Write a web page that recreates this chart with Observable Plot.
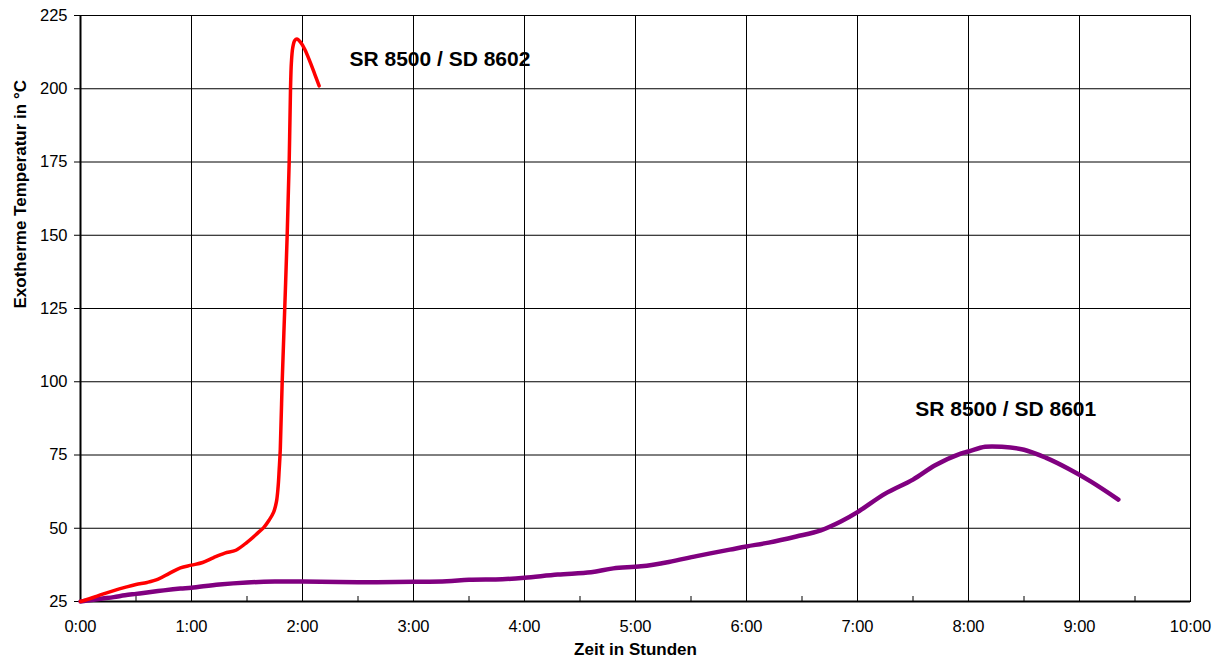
<!DOCTYPE html>
<html><head><meta charset="utf-8">
<script src="https://cdn.jsdelivr.net/npm/d3@7"></script>
<script src="https://cdn.jsdelivr.net/npm/@observablehq/plot@0.6"></script>
<style>body{margin:0;background:#fff} svg{display:block}</style>
</head><body><div id="chart"></div>
<script>
// SR 8500 / SD 8602 (red): hours, °C
const redHours = [0,0.1,0.2,0.3,0.4,0.5,0.6,0.7,0.8,0.9,1.0,1.1,1.2,1.3,1.4,1.5,1.6,1.65,1.7,1.74,1.765,1.78,1.79,1.80,1.817,1.84,1.862,1.88,1.892,1.90,1.912,1.93,1.95,1.98,2.02,2.07,2.11,2.15];
const redTemps = [25,26.2,27.5,28.7,29.8,30.8,31.5,32.6,34.6,36.5,37.4,38.3,40.0,41.5,42.5,45.2,48.5,50.2,52.8,55.5,59,64,70,77,100,125,150,175,200,209,214,216.5,217,216,213.5,209,205,201];
// SR 8500 / SD 8601 (purple)
const purpleHours = [0,0.1,0.2,0.3,0.4,0.5,0.6,0.75,0.9,1.0,1.25,1.5,1.75,2.0,2.5,3.0,3.3,3.5,3.8,4.0,4.3,4.6,4.8,5.05,5.3,5.55,5.85,6.0,6.2,6.45,6.67,6.85,7.0,7.25,7.5,7.7,7.93,8.0,8.15,8.3,8.5,8.7,8.9,9.1,9.35];
const purpleTemps = [25,25.5,26.0,26.5,27.1,27.6,28.1,28.8,29.4,29.7,30.8,31.5,31.8,31.8,31.6,31.7,31.9,32.4,32.6,33.1,34.2,35.0,36.3,37.0,38.5,40.5,42.7,43.8,45.1,47.2,49.3,52.3,55.5,61.8,66.6,71.5,75.5,76.2,77.8,77.8,76.8,74.0,70.3,66.0,59.8];

const seriesNames = ["SR 8500 / SD 8602", "SR 8500 / SD 8601"];
const seriesColors = ["#ff0000", "#800080"];
const labelHours = [2.423, 7.52];
const labelTemps = [210, 90.5];

const xTicks = [0,1,2,3,4,5,6,7,8,9,10];
const xMinor = [0.5,1.5,2.5,3.5,4.5,5.5,6.5,7.5,8.5,9.5];
const yTicks = [25,50,75,100,125,150,175,200,225];
const xTitle = "Zeit in Stunden";
const yTitle = "Exotherme Temperatur in °C";

const red = redHours.map((h,i)=>({h, t: redTemps[i]}));
const purple = purpleHours.map((h,i)=>({h, t: purpleTemps[i]}));
const labels = seriesNames.map((name,i)=>({name, h: labelHours[i], t: labelTemps[i]}));

const chart = Plot.plot({
  width: 1224, height: 666,
  marginLeft: 80, marginRight: 34, marginTop: 15, marginBottom: 65,
  style: {fontFamily: "Arial, 'Liberation Sans', sans-serif", fontSize: "16.5px", color: "#000", background: "#fff", overflow: "visible"},
  x: {domain: [0,10]},
  y: {domain: [25,225]},
  marks: [
    Plot.ruleY(yTicks, {stroke: "#000", strokeWidth: 1}),
    Plot.ruleX(xTicks, {stroke: "#000", strokeWidth: 1}),
    Plot.ruleX(xMinor, {y1: 25, y2: 25, insetTop: -5, stroke: "#000", strokeWidth: 1}),
    Plot.frame({stroke: "#000", strokeWidth: 1}),
    Plot.ruleX([0], {stroke: "#000", strokeWidth: 2}),
    Plot.ruleY([25], {stroke: "#000", strokeWidth: 2}),
    Plot.axisY({ticks: yTicks, tickSize: 6, tickPadding: 7, label: null, tickFormat: d => String(d), fontSize: 16.5}),
    Plot.axisX({ticks: xTicks, tickSize: 0, tickPadding: 19, label: null, tickFormat: d => d + ":00", fontSize: 16.5}),
    Plot.line(purple, {x: "h", y: "t", stroke: seriesColors[1], strokeWidth: 4.5, curve: "catmull-rom"}),
    Plot.line(red, {x: "h", y: "t", stroke: seriesColors[0], strokeWidth: 3.5, curve: "catmull-rom"}),
    Plot.text(labels, {x: "h", y: "t", text: "name", textAnchor: "start", fontSize: 21, fontWeight: "bold", fill: "#000"}),
    Plot.text([xTitle], {frameAnchor: "bottom", dy: 53.6, fontSize: 17, fontWeight: "bold", fill: "#000"}),
    Plot.text([yTitle], {frameAnchor: "left", dx: -60, rotate: -90, fontSize: 17, fontWeight: "bold", fill: "#000"})
  ]
});
document.getElementById("chart").append(chart);
</script>
</body></html>
